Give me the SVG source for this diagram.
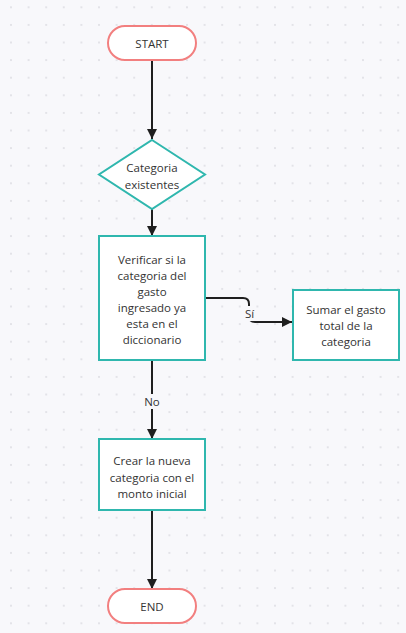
<svg xmlns="http://www.w3.org/2000/svg" width="406" height="633" viewBox="0 0 406 633">
<defs>
<pattern id="dots" x="2.2" y="-1.5" width="17.6" height="17.6" patternUnits="userSpaceOnUse">
<circle cx="8.8" cy="8.8" r="1" fill="#dcdce2"/>
</pattern>
<marker id="arr" viewBox="0 0 10 10" refX="10" refY="5" markerWidth="10" markerHeight="10" markerUnits="userSpaceOnUse" orient="auto">
<path d="M0,0 L10,5 L0,10 Z" fill="#1f1f1f"/>
</marker>
</defs>
<style>
.pill{fill:#ffffff;stroke:#f27f7f;stroke-width:2}
.proc{fill:#ffffff;stroke:#2fb7ae;stroke-width:2}
.t{font-family:"Open Sans","Noto Sans","Liberation Sans",sans-serif;font-size:11.5px;fill:#333333;text-anchor:middle;dominant-baseline:central}
.c{fill:none;stroke:#1f1f1f;stroke-width:2}
.lb{fill:#f8f8fb}
</style>
<rect width="406" height="633" fill="#f8f8fb"/>
<rect width="406" height="633" fill="url(#dots)"/>
<g id="connectors">
<path class="c" d="M152,60 V139" marker-end="url(#arr)"/>
<path class="c" d="M152,209 V236" marker-end="url(#arr)"/>
<path class="c" d="M205,298 H243 Q249,298 249,304 V316 Q249,322 255,322 H292" marker-end="url(#arr)"/>
<path class="c" d="M152,360 V439" marker-end="url(#arr)"/>
<path class="c" d="M152,510 V589" marker-end="url(#arr)"/>
<rect class="lb" x="243" y="306" width="13" height="15"/>
<text class="t" x="249.5" y="313">Sí</text>
<rect class="lb" x="142" y="394" width="20" height="15"/>
<text class="t" x="152" y="401">No</text>
</g>
<g id="start">
<rect class="pill" x="108" y="26" width="88" height="34" rx="17"/>
<text class="t" x="152" y="43.5">START</text>
</g>
<g id="categoria">
<polygon class="proc" points="152,140 205,174.5 152,209 99,174.5"/>
<text class="t" x="152" y="167">Categoria</text>
<text class="t" x="152" y="184">existentes</text>
</g>
<g id="verificar">
<rect class="proc" x="99" y="236" width="106" height="124"/>
<text class="t" x="152" y="259">Verificar si la</text>
<text class="t" x="152" y="275">categoria del</text>
<text class="t" x="152" y="291">gasto</text>
<text class="t" x="152" y="307.5">ingresado ya</text>
<text class="t" x="152" y="323">esta en el</text>
<text class="t" x="152" y="339">diccionario</text>
</g>
<g id="sumar">
<rect class="proc" x="293" y="290" width="106" height="70"/>
<text class="t" x="346" y="309.5">Sumar el gasto</text>
<text class="t" x="346" y="325.5">total de la</text>
<text class="t" x="346" y="341.5">categoria</text>
</g>
<g id="crear">
<rect class="proc" x="99" y="439" width="106" height="71"/>
<text class="t" x="152" y="460">Crear la nueva</text>
<text class="t" x="152" y="477">categoria con el</text>
<text class="t" x="152" y="493.5">monto inicial</text>
</g>
<g id="end">
<rect class="pill" x="108" y="589" width="88" height="34" rx="17"/>
<text class="t" x="152" y="606">END</text>
</g>
</svg>
